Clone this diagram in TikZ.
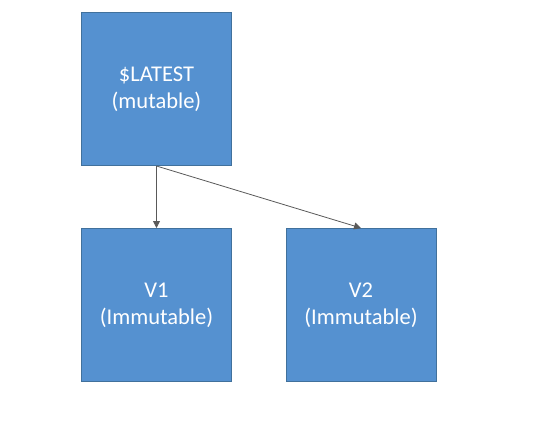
\documentclass[tikz,border=0pt]{standalone}
\usepackage{fontspec}
\setmainfont{Carlito}
\usetikzlibrary{arrows.meta}
\definecolor{boxfill}{HTML}{5591D0}
\definecolor{boxline}{HTML}{41719C}
\definecolor{arrowgray}{HTML}{595959}
\tikzset{
  vbox/.style={draw=boxline, line width=1pt, fill=boxfill, minimum width=150pt, minimum height=153pt,
    inner sep=0pt, text=white, align=center, font=\fontsize{22.5pt}{27pt}\selectfont},
  conn/.style={draw=arrowgray, line width=0.8pt, -{Triangle[length=7pt,width=7pt]}}
}
\begin{document}
\begin{tikzpicture}[x=1pt,y=-1pt]
\useasboundingbox (0,0) rectangle (554,440);
\node[vbox] (latest) at (156.5,89) {\$LATEST\\(mutable)};
\node[vbox] (v1) at (156.5,305) {V1\\(Immutable)};
\node[vbox] (v2) at (361,305) {V2\\(Immutable)};
\draw[conn] (latest.south) -- (v1.north);
\draw[conn] (latest.south) -- (v2.north);
\end{tikzpicture}
\end{document}
